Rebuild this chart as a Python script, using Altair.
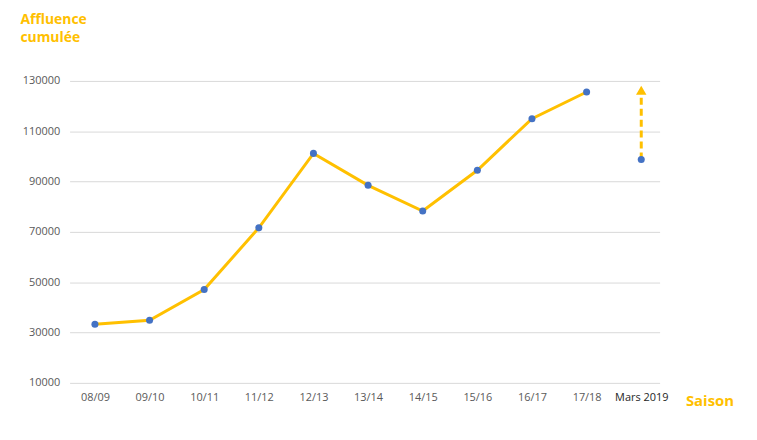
import altair as alt
import pandas as pd

seasons = ["08/09", "09/10", "10/11", "11/12", "12/13", "13/14", "14/15", "15/16", "16/17", "17/18", "Mars 2019"]
affluence = [33300, 34900, 47100, 71600, 101200, 88500, 78300, 94500, 115000, 125600, None]
mars_value = 98800
arrow_tail = 124500
arrow_head = 126300
y_ticks = [10000, 30000, 50000, 70000, 90000, 110000, 130000]

df = pd.DataFrame({"saison": seasons, "affluence": affluence})
df_line = df.dropna()
df_pts = pd.DataFrame({"saison": seasons, "affluence": affluence[:-1] + [mars_value]})
df_arrow = pd.DataFrame({"saison": ["Mars 2019"], "y1": [mars_value], "y2": [arrow_tail], "head": [arrow_head]})

ORANGE = "#FFC000"
BLUE = "#4472C4"

xscale = alt.Scale(type="point", domain=seasons, padding=0.4, align=0.58)
x = alt.X("saison:N", sort=seasons, scale=xscale,
          axis=alt.Axis(title="Saison", titleColor=ORANGE, titleFont="Open Sans", titleFontSize=15,
                        titleFontWeight="bold", titleAngle=0, titleAlign="left", titleBaseline="alphabetic",
                        titleX=620, titleY=23, labelAngle=0, labelFont="Open Sans", labelFontSize=11,
                        labelColor=alt.expr("datum.value == 'Mars 2019' ? '#262626' : '#595959'"),
                        labelPadding=9, ticks=False, domain=False, grid=False))
yscale = alt.Scale(domain=[10000, 130000], nice=False, zero=False)
yaxis = alt.Axis(values=y_ticks, title=["Affluence", "cumulée"], titleColor=ORANGE, titleFont="Open Sans",
                 titleFontSize=14, titleFontWeight="bold", titleAngle=0, titleAlign="left",
                 titleBaseline="alphabetic", titleX=-50, titleY=-58, titleLineHeight=18,
                 labelFont="Open Sans", labelFontSize=11, labelColor="#595959", labelPadding=10,
                 ticks=False, domain=False, grid=True, gridColor="#d9d9d9", gridWidth=1, format="d")

line = alt.Chart(df_line).mark_line(color=ORANGE, strokeWidth=3).encode(
    x=x, y=alt.Y("affluence:Q", scale=yscale, axis=yaxis))
rule = alt.Chart(df_arrow).mark_rule(color=ORANGE, strokeWidth=3, strokeDash=[7, 4]).encode(
    x=alt.X("saison:N", sort=seasons, scale=xscale), y=alt.Y("y1:Q"), y2="y2:Q")
head = alt.Chart(df_arrow).mark_point(shape="triangle-up", filled=True, color=ORANGE, opacity=1, size=110).encode(
    x=alt.X("saison:N", sort=seasons, scale=xscale), y=alt.Y("head:Q"))
pts = alt.Chart(df_pts).mark_circle(color=BLUE, size=50, opacity=1).encode(
    x=alt.X("saison:N", sort=seasons, scale=xscale), y=alt.Y("affluence:Q"))

chart = alt.layer(line, rule, head, pts).properties(
    width=594, height=304,
    autosize=alt.AutoSizeParams(type="none"),
    padding={"left": 62, "top": 72, "right": 90, "bottom": 40},
).configure(background="white").configure_view(stroke=None)

chart.save("out.html", embed_options={"renderer": "svg", "actions": False})
